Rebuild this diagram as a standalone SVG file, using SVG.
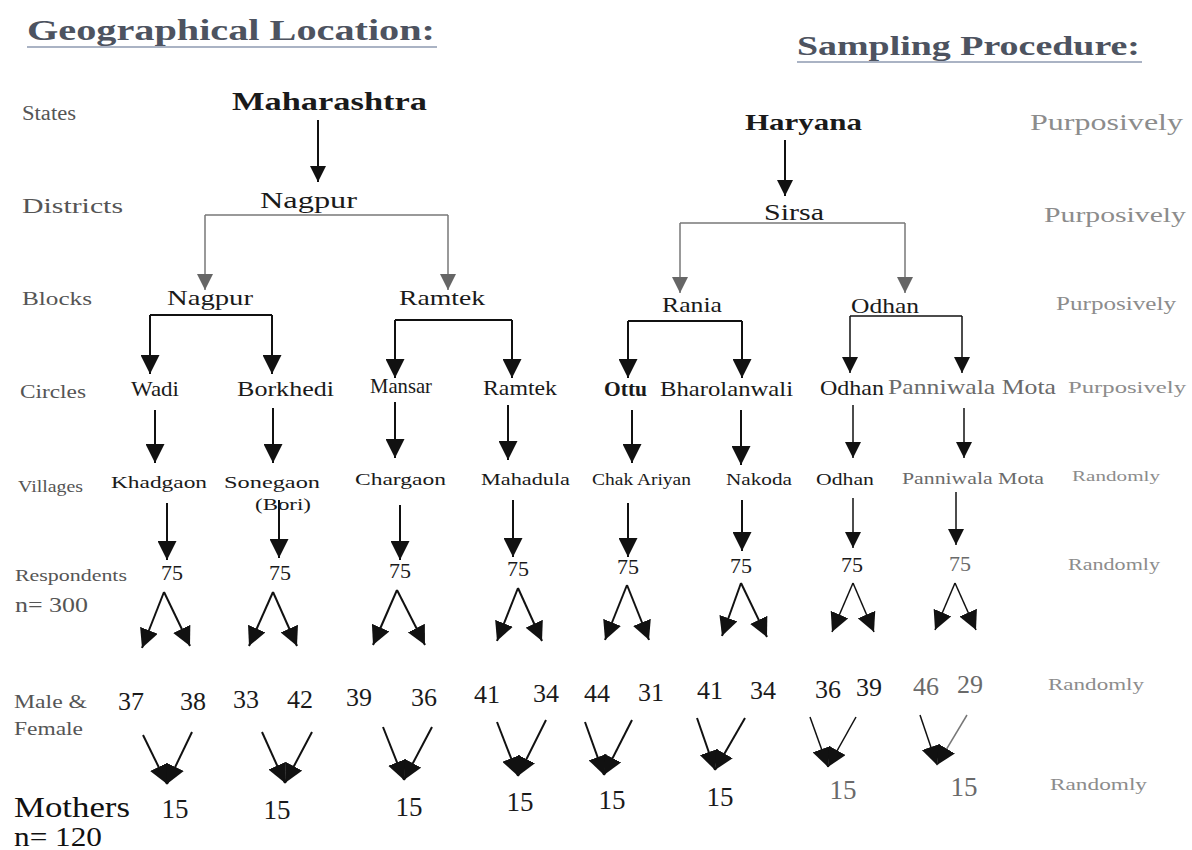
<svg xmlns="http://www.w3.org/2000/svg" width="1192" height="850" viewBox="0 0 1192 850">
<defs>
<style>
text{font-family:"Liberation Serif","Times New Roman",serif;}
.t{font-weight:bold;fill:#4d5360;}
.ul{stroke:#aab3c4;stroke-width:2;}
.lab{fill:#555;}
.rt{fill:#8c8c8c;}
.n{fill:#1a1a1a;}
.lt{fill:#6a6a6a;}
.c line,.c path{fill:none;stroke:#111;stroke-width:2;}
.c .g{stroke:#777;stroke-width:1.5;}
.c .thin{stroke-width:1.5;}
</style>
<marker id="ah" viewBox="0 0 10 10" refX="10" refY="5" markerWidth="19" markerHeight="19" markerUnits="userSpaceOnUse" orient="auto"><path d="M0,0 L10,5 L0,10 z" fill="#111"/></marker>
<marker id="ahm" viewBox="0 0 10 10" refX="10" refY="5" markerWidth="16" markerHeight="16" markerUnits="userSpaceOnUse" orient="auto"><path d="M0,0 L10,5 L0,10 z" fill="#111"/></marker>
<marker id="ahg" viewBox="0 0 10 10" refX="10" refY="5" markerWidth="16" markerHeight="16" markerUnits="userSpaceOnUse" orient="auto"><path d="M0,0 L10,5 L0,10 z" fill="#666"/></marker>
</defs>
<rect width="1192" height="850" fill="#fff"/>

<g id="titles">
<text class="t" x="27" y="40" font-size="30" textLength="408" lengthAdjust="spacingAndGlyphs">Geographical Location:</text>
<line class="ul" x1="27" y1="47" x2="437" y2="47"/>
<text class="t" x="797" y="55" font-size="28" textLength="343" lengthAdjust="spacingAndGlyphs">Sampling Procedure:</text>
<line class="ul" x1="797" y1="62" x2="1142" y2="62"/>
</g>

<g id="row-labels" class="lab">
<text x="22" y="120" font-size="20" textLength="54" lengthAdjust="spacingAndGlyphs">States</text>
<text x="22" y="213" font-size="21" textLength="101" lengthAdjust="spacingAndGlyphs">Districts</text>
<text x="22" y="305" font-size="19" textLength="70" lengthAdjust="spacingAndGlyphs">Blocks</text>
<text x="20" y="398" font-size="19" textLength="66" lengthAdjust="spacingAndGlyphs">Circles</text>
<text x="18" y="492" font-size="16" textLength="65" lengthAdjust="spacingAndGlyphs">Villages</text>
<text x="15" y="581" font-size="16" textLength="112" lengthAdjust="spacingAndGlyphs">Respondents</text>
<text x="15" y="612" font-size="21" textLength="73" lengthAdjust="spacingAndGlyphs">n= 300</text>
<text x="14" y="708" font-size="18" textLength="73" lengthAdjust="spacingAndGlyphs">Male &amp;</text>
<text x="14" y="735" font-size="18" textLength="69" lengthAdjust="spacingAndGlyphs">Female</text>
<text x="14" y="817" font-size="30" fill="#111" textLength="116" lengthAdjust="spacingAndGlyphs">Mothers</text>
<text x="14" y="846" font-size="28" fill="#111" textLength="88" lengthAdjust="spacingAndGlyphs">n= 120</text>
</g>

<g id="method-labels" class="rt">
<text x="1030" y="130" font-size="23" textLength="153" lengthAdjust="spacingAndGlyphs">Purposively</text>
<text x="1044" y="222" font-size="22" textLength="142" lengthAdjust="spacingAndGlyphs">Purposively</text>
<text x="1056" y="310" font-size="18" textLength="120" lengthAdjust="spacingAndGlyphs">Purposively</text>
<text x="1068" y="393" font-size="16" textLength="118" lengthAdjust="spacingAndGlyphs">Purposively</text>
<text x="1072" y="481" font-size="15" textLength="88" lengthAdjust="spacingAndGlyphs">Randomly</text>
<text x="1068" y="570" font-size="16" textLength="92" lengthAdjust="spacingAndGlyphs">Randomly</text>
<text x="1048" y="690" font-size="16" textLength="96" lengthAdjust="spacingAndGlyphs">Randomly</text>
<text x="1050" y="790" font-size="17" textLength="97" lengthAdjust="spacingAndGlyphs">Randomly</text>
</g>

<g id="connectors" class="c">
<line x1="318" y1="120" x2="318" y2="182" marker-end="url(#ahm)"/>
<line x1="785" y1="140" x2="785" y2="196" marker-end="url(#ahm)"/>
<line class="g" x1="205" y1="215" x2="448" y2="215"/>
<line class="g" x1="205" y1="215" x2="205" y2="290" marker-end="url(#ahg)"/>
<line class="g" x1="448" y1="215" x2="448" y2="290" marker-end="url(#ahg)"/>
<line class="g" x1="680" y1="223" x2="905" y2="223"/>
<line class="g" x1="680" y1="223" x2="680" y2="293" marker-end="url(#ahg)"/>
<line class="g" x1="905" y1="223" x2="905" y2="293" marker-end="url(#ahg)"/>
<line x1="150" y1="315" x2="272" y2="315"/>
<line x1="150" y1="315" x2="150" y2="374" marker-end="url(#ah)"/>
<line x1="272" y1="315" x2="272" y2="374" marker-end="url(#ah)"/>
<line x1="395" y1="320" x2="512" y2="320"/>
<line x1="395" y1="320" x2="395" y2="378" marker-end="url(#ah)"/>
<line x1="512" y1="320" x2="512" y2="378" marker-end="url(#ah)"/>
<line x1="628" y1="321" x2="742" y2="321"/>
<line x1="628" y1="321" x2="628" y2="378" marker-end="url(#ah)"/>
<line x1="742" y1="321" x2="742" y2="378" marker-end="url(#ah)"/>
<line class="thin" x1="850" y1="316" x2="962" y2="316"/>
<line class="thin" x1="850" y1="316" x2="850" y2="373" marker-end="url(#ahm)"/>
<line class="thin" x1="962" y1="316" x2="962" y2="373" marker-end="url(#ahm)"/>

<line x1="155" y1="410" x2="155" y2="463" marker-end="url(#ah)"/>
<line x1="273" y1="408" x2="273" y2="463" marker-end="url(#ah)"/>
<line x1="395" y1="402" x2="395" y2="458" marker-end="url(#ah)"/>
<line x1="508" y1="405" x2="508" y2="460" marker-end="url(#ah)"/>
<line x1="632" y1="410" x2="632" y2="463" marker-end="url(#ah)"/>
<line x1="741" y1="410" x2="741" y2="465" marker-end="url(#ah)"/>
<line class="thin" x1="853" y1="405" x2="853" y2="458" marker-end="url(#ahm)"/>
<line class="thin" x1="964" y1="408" x2="964" y2="458" marker-end="url(#ahm)"/>

<line x1="167" y1="503" x2="167" y2="560" marker-end="url(#ah)"/>
<line x1="279" y1="500" x2="279" y2="558" marker-end="url(#ah)"/>
<line x1="400" y1="505" x2="400" y2="560" marker-end="url(#ah)"/>
<line x1="513" y1="500" x2="513" y2="557" marker-end="url(#ah)"/>
<line x1="628" y1="503" x2="628" y2="557" marker-end="url(#ah)"/>
<line x1="742" y1="500" x2="742" y2="551" marker-end="url(#ah)"/>
<line class="thin" x1="853" y1="498" x2="853" y2="548" marker-end="url(#ahm)"/>
<line class="thin" x1="956" y1="492" x2="956" y2="545" marker-end="url(#ahm)"/>

<line x1="164" y1="592" x2="142" y2="648" marker-end="url(#ah)"/>
<line x1="164" y1="592" x2="190" y2="646" marker-end="url(#ah)"/>
<line x1="273" y1="592" x2="249" y2="646" marker-end="url(#ah)"/>
<line x1="273" y1="592" x2="297" y2="646" marker-end="url(#ah)"/>
<line x1="397" y1="590" x2="373" y2="645" marker-end="url(#ah)"/>
<line x1="397" y1="590" x2="425" y2="645" marker-end="url(#ah)"/>
<line x1="518" y1="588" x2="497" y2="641" marker-end="url(#ah)"/>
<line x1="518" y1="588" x2="542" y2="641" marker-end="url(#ah)"/>
<line x1="627" y1="585" x2="605" y2="640" marker-end="url(#ah)"/>
<line x1="627" y1="585" x2="649" y2="640" marker-end="url(#ah)"/>
<line x1="741" y1="583" x2="722" y2="636" marker-end="url(#ah)"/>
<line x1="741" y1="583" x2="767" y2="637" marker-end="url(#ah)"/>
<line class="thin" x1="853" y1="583" x2="832" y2="632" marker-end="url(#ah)"/>
<line class="thin" x1="853" y1="583" x2="874" y2="632" marker-end="url(#ah)"/>
<line class="thin" x1="955" y1="583" x2="935" y2="630" marker-end="url(#ah)"/>
<line class="thin" x1="955" y1="583" x2="976" y2="630" marker-end="url(#ah)"/>

<line x1="143" y1="735" x2="167" y2="784" marker-end="url(#ah)"/>
<line x1="192" y1="732" x2="167" y2="784" marker-end="url(#ah)"/>
<line x1="262" y1="732" x2="285" y2="783" marker-end="url(#ah)"/>
<line x1="312" y1="732" x2="285" y2="783" marker-end="url(#ah)"/>
<line x1="383" y1="727" x2="404" y2="780" marker-end="url(#ah)"/>
<line x1="432" y1="727" x2="404" y2="780" marker-end="url(#ah)"/>
<line x1="497" y1="722" x2="518" y2="776" marker-end="url(#ah)"/>
<line x1="546" y1="720" x2="518" y2="776" marker-end="url(#ah)"/>
<line x1="585" y1="722" x2="604" y2="775" marker-end="url(#ah)"/>
<line x1="632" y1="720" x2="604" y2="775" marker-end="url(#ah)"/>
<line x1="697" y1="718" x2="715" y2="770" marker-end="url(#ah)"/>
<line x1="745" y1="718" x2="715" y2="770" marker-end="url(#ah)"/>
<line class="thin" x1="810" y1="717" x2="828" y2="767" marker-end="url(#ah)"/>
<line class="thin" x1="856" y1="717" x2="828" y2="767" marker-end="url(#ah)"/>
<line class="thin" x1="920" y1="715" x2="937" y2="765" marker-end="url(#ah)"/>
<line class="g" x1="967" y1="715" x2="937" y2="765" marker-end="url(#ah)"/>
</g>

<g id="states" class="n">
<text id="maharashtra" x="232" y="110" font-size="26" font-weight="bold" textLength="195" lengthAdjust="spacingAndGlyphs">Maharashtra</text>
<text id="haryana" x="745" y="130" font-size="24" font-weight="bold" textLength="117" lengthAdjust="spacingAndGlyphs">Haryana</text>
</g>
<g id="districts" class="n">
<text id="d-nagpur" x="260" y="208" font-size="24" textLength="97" lengthAdjust="spacingAndGlyphs">Nagpur</text>
<text id="d-sirsa" x="764" y="220" font-size="23" textLength="60" lengthAdjust="spacingAndGlyphs">Sirsa</text>
</g>
<g id="blocks" class="n">
<text id="b-nagpur" x="167" y="305" font-size="22" textLength="86" lengthAdjust="spacingAndGlyphs">Nagpur</text>
<text id="b-ramtek" x="399" y="305" font-size="22" textLength="86" lengthAdjust="spacingAndGlyphs">Ramtek</text>
<text id="b-rania" x="662" y="312" font-size="22" textLength="60" lengthAdjust="spacingAndGlyphs">Rania</text>
<text id="b-odhan" x="851" y="313" font-size="22" textLength="68" lengthAdjust="spacingAndGlyphs">Odhan</text>
</g>
<g id="circles" class="n">
<text id="c-wadi" x="131" y="396" font-size="21" textLength="48" lengthAdjust="spacingAndGlyphs">Wadi</text>
<text id="c-borkhedi" x="237" y="396" font-size="21" textLength="97" lengthAdjust="spacingAndGlyphs">Borkhedi</text>
<text id="c-mansar" x="370" y="393" font-size="21" textLength="62" lengthAdjust="spacingAndGlyphs">Mansar</text>
<text id="c-ramtek" x="483" y="395" font-size="21" textLength="74" lengthAdjust="spacingAndGlyphs">Ramtek</text>
<text id="c-ottu" x="604" y="396" font-size="21" font-weight="bold" textLength="43" lengthAdjust="spacingAndGlyphs">Ottu</text>
<text id="c-bharolanwali" x="660" y="396" font-size="21" textLength="133" lengthAdjust="spacingAndGlyphs">Bharolanwali</text>
<text id="c-odhan" x="820" y="395" font-size="21" textLength="64" lengthAdjust="spacingAndGlyphs">Odhan</text>
<text id="c-panniwala" x="888" y="394" font-size="21" class="lt" textLength="168" lengthAdjust="spacingAndGlyphs">Panniwala Mota</text>
</g>
<g id="villages" class="n">
<text id="v-khadgaon" x="111" y="488" font-size="17" textLength="96" lengthAdjust="spacingAndGlyphs">Khadgaon</text>
<text id="v-sonegaon" x="224" y="488" font-size="17" textLength="96" lengthAdjust="spacingAndGlyphs">Sonegaon</text>
<text x="255" y="510" font-size="17" textLength="56" lengthAdjust="spacingAndGlyphs">(Bori)</text>
<text id="v-chargaon" x="355" y="485" font-size="17" textLength="91" lengthAdjust="spacingAndGlyphs">Chargaon</text>
<text id="v-mahadula" x="481" y="485" font-size="17" textLength="89" lengthAdjust="spacingAndGlyphs">Mahadula</text>
<text id="v-chakariyan" x="592" y="485" font-size="17" textLength="99" lengthAdjust="spacingAndGlyphs">Chak Ariyan</text>
<text id="v-nakoda" x="726" y="485" font-size="17" textLength="66" lengthAdjust="spacingAndGlyphs">Nakoda</text>
<text id="v-odhan" x="816" y="485" font-size="17" textLength="58" lengthAdjust="spacingAndGlyphs">Odhan</text>
<text id="v-panniwala" x="902" y="484" font-size="17" class="lt" textLength="142" lengthAdjust="spacingAndGlyphs">Panniwala Mota</text>
</g>
<g id="respondents" class="n" font-size="22" text-anchor="middle">
<text x="172" y="580">75</text>
<text x="280" y="580">75</text>
<text x="400" y="578">75</text>
<text x="518" y="576">75</text>
<text x="628" y="574">75</text>
<text x="741" y="573">75</text>
<text x="852" y="572">75</text>
<text x="960" y="571" class="lt">75</text>
</g>
<g id="male-female" class="n" font-size="26">
<text x="118" y="710">37</text>
<text x="180" y="710">38</text>
<text x="233" y="708">33</text>
<text x="287" y="708">42</text>
<text x="346" y="706">39</text>
<text x="411" y="706">36</text>
<text x="474" y="703">41</text>
<text x="533" y="702">34</text>
<text x="584" y="702">44</text>
<text x="638" y="701">31</text>
<text x="697" y="699">41</text>
<text x="750" y="699">34</text>
<text x="815" y="698">36</text>
<text x="856" y="696">39</text>
<text x="913" y="695" class="lt">46</text>
<text x="957" y="693" class="lt">29</text>
</g>
<g id="mothers" class="n" font-size="27" text-anchor="middle">
<text x="175" y="818">15</text>
<text x="277" y="819">15</text>
<text x="409" y="816">15</text>
<text x="520" y="811">15</text>
<text x="612" y="809">15</text>
<text x="720" y="806">15</text>
<text x="843" y="799" class="lt">15</text>
<text x="964" y="796" class="lt">15</text>
</g>
</svg>
